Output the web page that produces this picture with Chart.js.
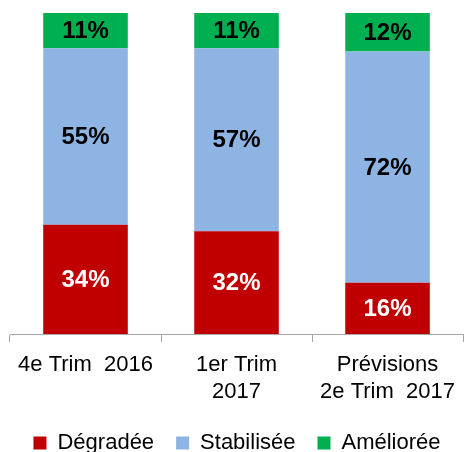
<!DOCTYPE html>
<html>
<head>
<meta charset="utf-8">
<script src="https://cdn.jsdelivr.net/npm/chart.js@4/dist/chart.umd.min.js"></script>
<style>
  html, body { margin: 0; padding: 0; background: #fff; }
  #wrap { width: 464px; height: 452px; }
</style>
</head>
<body>
<div id="wrap"><canvas id="graphique"></canvas></div>
<script>
// données du graphique
var categories = [['4e Trim  2016'], ['1er Trim', '2017'], ['Prévisions', '2e Trim  2017']];
var degradee = [34, 32, 16];
var stabilisee = [55, 57, 72];
var amelioree = [11, 11, 12];

var police = '"Liberation Sans", Arial, sans-serif';

// étiquettes au centre des barres
var etiquettes = {
  id: 'etiquettes',
  afterDatasetsDraw: function (chart) {
    var ctx = chart.ctx;
    ctx.save();
    ctx.font = 'bold 24px ' + police;
    ctx.textAlign = 'center';
    ctx.textBaseline = 'middle';
    chart.data.datasets.forEach(function (ds, i) {
      var meta = chart.getDatasetMeta(i);
      meta.data.forEach(function (bar, j) {
        var milieu = (bar.y + bar.base) / 2;
        ctx.fillStyle = i == 0 ? '#FFFFFF' : '#000000';
        ctx.fillText(ds.data[j] + '%', bar.x, milieu + 1);
      });
    });
    ctx.restore();
  }
};

var ctx = document.getElementById('graphique').getContext('2d');
var myChart = new Chart(ctx, {
  type: 'bar',
  data: {
    labels: categories,
    datasets: [
      { label: 'Dégradée', data: degradee, backgroundColor: '#C00000' },
      { label: 'Stabilisée', data: stabilisee, backgroundColor: '#8EB4E3' },
      { label: 'Améliorée', data: amelioree, backgroundColor: '#00B050' }
    ]
  },
  options: {
    responsive: true,
    maintainAspectRatio: false,
    animation: false,
    layout: { padding: { top: 13, left: 10, right: 0, bottom: -12 } },
    datasets: { bar: { barPercentage: 0.56, categoryPercentage: 1 } },
    plugins: {
      legend: {
        position: 'bottom',
        labels: {
          boxWidth: 13,
          boxHeight: 13,
          padding: 22,
          color: '#000',
          font: { size: 22, family: police }
        }
      },
      tooltip: { enabled: false }
    },
    scales: {
      x: {
        stacked: true,
        afterFit: function (scale) { scale.height = scale.height - 5; },
        grid: { offset: true, drawOnChartArea: false, tickLength: 8, color: '#A6A6A6' },
        border: { color: '#A6A6A6' },
        ticks: {
          color: '#000',
          padding: 9,
          maxRotation: 0,
          font: { size: 22, family: police, lineHeight: 1.25 }
        }
      },
      y: { stacked: true, display: false, min: 0, max: 100 }
    }
  },
  plugins: [etiquettes]
});
</script>
</body>
</html>
